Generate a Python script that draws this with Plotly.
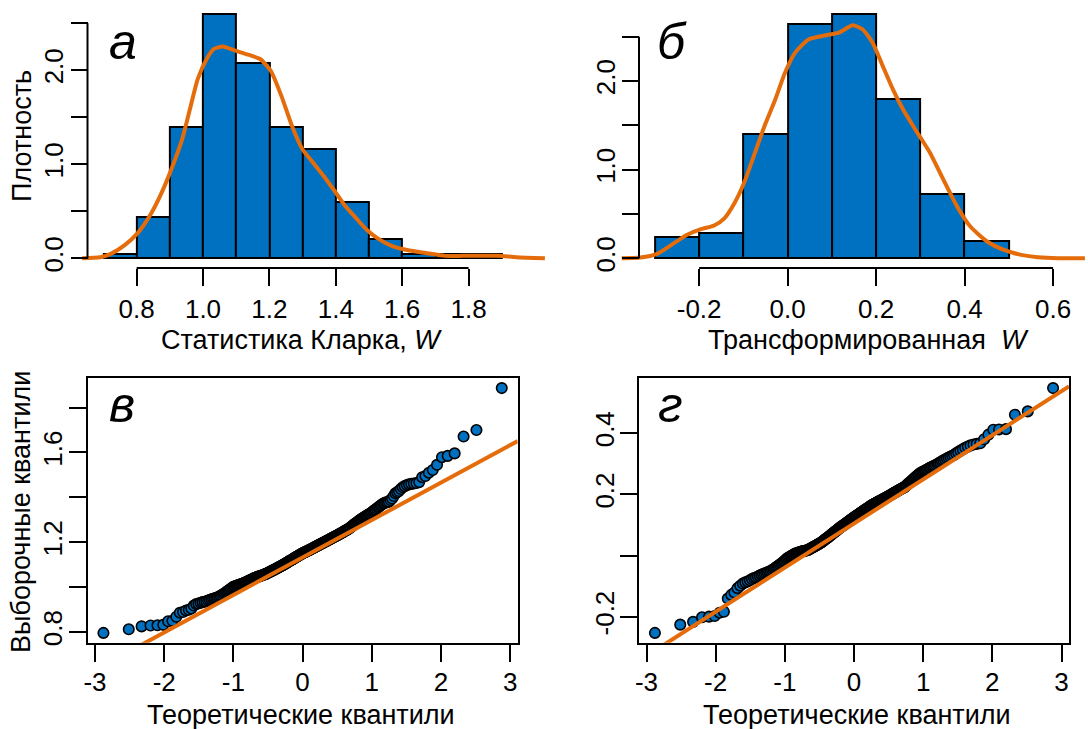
import plotly.graph_objects as go
from statistics import NormalDist

FIG_W, FIG_H = 1088, 729
BLUE = "#0070C0"
ORANGE = "#E46C0A"
FONT = "Liberation Sans, Arial, sans-serif"
TICK_FONT = dict(family=FONT, size=26, color="black")
TITLE_SIZE = 27

# ---------------- panel а: Clark's W, density histogram ----------------
W_BREAKS = [0.7, 0.8, 0.9, 1.0, 1.1, 1.2, 1.3, 1.4, 1.5, 1.6, 1.7, 1.8, 1.9]
W_DENSITY = [0.04, 0.44, 1.40, 2.60, 2.08, 1.40, 1.16, 0.60, 0.20, 0.04, 0.04, 0.04]
W_XLIM = [0.7, 1.9]
W_XTICKS = [0.8, 1.0, 1.2, 1.4, 1.6, 1.8]
W_XTICKTEXT = ["0.8", "1.0", "1.2", "1.4", "1.6", "1.8"]
W_KDE_X = [0.636, 0.690, 0.722, 0.765, 0.803, 0.841, 0.873, 0.905, 0.937, 0.963,
           0.984, 1.011, 1.033, 1.059, 1.097, 1.139, 1.172, 1.204, 1.236, 1.268,
           1.300, 1.332, 1.364, 1.397, 1.429, 1.461, 1.493, 1.525, 1.568, 1.622,
           1.675, 1.729, 1.783, 1.836, 1.890, 1.944, 2.030]
W_KDE_Y = [0.000, 0.010, 0.046, 0.142, 0.267, 0.460, 0.680, 0.950, 1.264, 1.620,
           1.905, 2.119, 2.226, 2.251, 2.208, 2.162, 2.119, 1.994, 1.727, 1.407,
           1.157, 1.015, 0.872, 0.712, 0.552, 0.427, 0.303, 0.214, 0.132, 0.082,
           0.053, 0.025, 0.025, 0.025, 0.025, 0.011, 0.000]

# ---------------- panel б: transformed W, density histogram ----------------
T_BREAKS = [-0.3, -0.2, -0.1, 0.0, 0.1, 0.2, 0.3, 0.4, 0.5]
T_DENSITY = [0.24, 0.28, 1.40, 2.64, 2.76, 1.80, 0.72, 0.20]
T_XLIM = [-0.3, 0.6]
T_XTICKS = [-0.2, 0.0, 0.2, 0.4, 0.6]
T_XTICKTEXT = ["-0.2", "0.0", "0.2", "0.4", "0.6"]
T_KDE_X = [-0.375, -0.333, -0.295, -0.257, -0.227, -0.196, -0.166, -0.143, -0.120, -0.097,
           -0.074, -0.051, -0.028, -0.006, 0.017, 0.048, 0.086, 0.116, 0.147, 0.169,
           0.192, 0.215, 0.238, 0.261, 0.291, 0.322, 0.352, 0.383, 0.413, 0.451,
           0.489, 0.528, 0.566, 0.611, 0.672]
T_KDE_Y = [0.000, 0.008, 0.050, 0.170, 0.264, 0.328, 0.370, 0.450, 0.623, 0.868,
           1.189, 1.509, 1.792, 2.094, 2.321, 2.472, 2.517, 2.547, 2.630, 2.585,
           2.434, 2.170, 1.906, 1.679, 1.434, 1.189, 0.887, 0.585, 0.358, 0.189,
           0.094, 0.038, 0.011, 0.000, 0.000]

HIST_YTICKS = [0.0, 0.5, 1.0, 1.5, 2.0, 2.5]
HIST_YTICKTEXT = ["0.0", "", "1.0", "", "2.0", ""]

# ---------------- panel в: normal Q-Q plot of W ----------------
W_SAMPLE = [
    0.796, 0.812, 0.825, 0.829, 0.830, 0.832, 0.848, 0.850, 0.868, 0.886,
    0.889, 0.896, 0.899, 0.905, 0.918, 0.925, 0.927, 0.930, 0.933, 0.935,
    0.937, 0.940, 0.943, 0.946, 0.948, 0.950, 0.953, 0.955, 0.958, 0.962,
    0.965, 0.969, 0.973, 0.977, 0.981, 0.985, 0.989, 0.993, 0.997, 1.001,
    1.003, 1.005, 1.006, 1.008, 1.010, 1.011, 1.013, 1.015, 1.016, 1.018,
    1.020, 1.022, 1.024, 1.026, 1.028, 1.030, 1.032, 1.034, 1.036, 1.038,
    1.040, 1.041, 1.043, 1.044, 1.046, 1.047, 1.048, 1.050, 1.051, 1.052,
    1.054, 1.055, 1.056, 1.058, 1.059, 1.061, 1.063, 1.064, 1.066, 1.068,
    1.070, 1.071, 1.073, 1.075, 1.077, 1.078, 1.080, 1.082, 1.084, 1.085,
    1.087, 1.089, 1.091, 1.092, 1.094, 1.096, 1.098, 1.099, 1.101, 1.103,
    1.105, 1.107, 1.109, 1.111, 1.113, 1.115, 1.117, 1.119, 1.120, 1.122,
    1.124, 1.126, 1.128, 1.130, 1.132, 1.134, 1.135, 1.137, 1.139, 1.141,
    1.143, 1.145, 1.146, 1.148, 1.150, 1.152, 1.153, 1.155, 1.156, 1.158,
    1.159, 1.161, 1.162, 1.164, 1.165, 1.167, 1.168, 1.170, 1.172, 1.173,
    1.175, 1.177, 1.178, 1.180, 1.182, 1.183, 1.185, 1.187, 1.188, 1.190,
    1.192, 1.193, 1.195, 1.197, 1.198, 1.200, 1.202, 1.203, 1.205, 1.207,
    1.209, 1.210, 1.212, 1.214, 1.216, 1.218, 1.219, 1.221, 1.223, 1.225,
    1.227, 1.228, 1.230, 1.232, 1.234, 1.236, 1.238, 1.240, 1.242, 1.244,
    1.246, 1.249, 1.251, 1.253, 1.255, 1.257, 1.259, 1.262, 1.265, 1.268,
    1.271, 1.275, 1.278, 1.281, 1.284, 1.287, 1.290, 1.294, 1.297, 1.300,
    1.303, 1.306, 1.309, 1.312, 1.315, 1.318, 1.321, 1.324, 1.327, 1.330,
    1.334, 1.338, 1.342, 1.346, 1.350, 1.355, 1.359, 1.364, 1.368, 1.373,
    1.375, 1.378, 1.379, 1.381, 1.388, 1.395, 1.406, 1.418, 1.423, 1.428,
    1.437, 1.445, 1.450, 1.455, 1.458, 1.460, 1.462, 1.464, 1.468, 1.490,
    1.495, 1.510, 1.522, 1.545, 1.579, 1.585, 1.596, 1.671, 1.700, 1.887,
]
W_LINE_INTERCEPT = 1.132
W_LINE_SLOPE = 0.167
W_QQ_YTICKS = [0.8, 1.0, 1.2, 1.4, 1.6, 1.8]
W_QQ_YTICKTEXT = ["0.8", "", "1.2", "", "1.6", ""]

# ---------------- panel г: normal Q-Q plot of transformed W ----------------
T_SAMPLE = [
    -0.252, -0.225, -0.216, -0.201, -0.199, -0.197, -0.186, -0.183, -0.140, -0.128,
    -0.120, -0.106, -0.098, -0.091, -0.087, -0.084, -0.080, -0.076, -0.073, -0.071,
    -0.068, -0.065, -0.062, -0.060, -0.058, -0.056, -0.054, -0.052, -0.050, -0.047,
    -0.044, -0.041, -0.038, -0.035, -0.032, -0.029, -0.026, -0.023, -0.020, -0.017,
    -0.013, -0.009, -0.007, -0.005, -0.003, -0.001, 0.001, 0.003, 0.005, 0.007,
    0.008, 0.009, 0.010, 0.011, 0.012, 0.013, 0.014, 0.015, 0.015, 0.016,
    0.017, 0.017, 0.018, 0.019, 0.021, 0.022, 0.024, 0.025, 0.027, 0.028,
    0.030, 0.031, 0.033, 0.034, 0.036, 0.037, 0.039, 0.040, 0.042, 0.043,
    0.045, 0.047, 0.049, 0.051, 0.053, 0.055, 0.057, 0.058, 0.060, 0.062,
    0.064, 0.066, 0.068, 0.070, 0.072, 0.074, 0.076, 0.078, 0.079, 0.081,
    0.083, 0.085, 0.087, 0.089, 0.091, 0.092, 0.094, 0.096, 0.097, 0.099,
    0.101, 0.102, 0.104, 0.106, 0.107, 0.109, 0.111, 0.112, 0.114, 0.116,
    0.117, 0.119, 0.121, 0.122, 0.124, 0.126, 0.127, 0.129, 0.130, 0.132,
    0.133, 0.135, 0.137, 0.138, 0.140, 0.141, 0.143, 0.144, 0.146, 0.148,
    0.149, 0.151, 0.152, 0.154, 0.155, 0.157, 0.158, 0.160, 0.162, 0.163,
    0.165, 0.166, 0.167, 0.169, 0.170, 0.171, 0.173, 0.174, 0.175, 0.176,
    0.178, 0.179, 0.180, 0.182, 0.183, 0.184, 0.186, 0.187, 0.188, 0.190,
    0.191, 0.192, 0.194, 0.195, 0.197, 0.198, 0.200, 0.201, 0.203, 0.205,
    0.206, 0.208, 0.209, 0.211, 0.212, 0.214, 0.216, 0.217, 0.219, 0.220,
    0.222, 0.223, 0.225, 0.228, 0.231, 0.234, 0.237, 0.239, 0.242, 0.245,
    0.248, 0.251, 0.254, 0.257, 0.260, 0.263, 0.266, 0.269, 0.271, 0.273,
    0.275, 0.277, 0.279, 0.281, 0.283, 0.286, 0.288, 0.290, 0.292, 0.294,
    0.296, 0.299, 0.302, 0.305, 0.308, 0.311, 0.314, 0.317, 0.320, 0.323,
    0.326, 0.329, 0.334, 0.338, 0.343, 0.347, 0.352, 0.356, 0.360, 0.363,
    0.365, 0.367, 0.380, 0.395, 0.411, 0.412, 0.413, 0.460, 0.471, 0.547,
]
T_LINE_INTERCEPT = 0.105
T_LINE_SLOPE = 0.144
T_QQ_YTICKS = [-0.2, 0.0, 0.2, 0.4]
T_QQ_YTICKTEXT = ["-0.2", "", "0.2", "0.4"]

QQ_XTICKS = [-3, -2, -1, 0, 1, 2, 3]
QQ_XTICKTEXT = ["-3", "-2", "-1", "0", "1", "2", "3"]


# ---------------- helpers ----------------
def fx(px):
    return px / FIG_W


def fy(py):
    return 1 - py / FIG_H


def padded(lo, hi, frac=0.04):
    d = (hi - lo) * frac
    return [lo - d, hi + d]


def ppoints(n):
    a = 3 / 8 if n <= 10 else 0.5
    return [(i + 1 - a) / (n + 1 - 2 * a) for i in range(n)]


def widened_domain(usr, px, ext):
    """Pixel span of an extended data range, given that usr maps onto px."""
    scale = (px[1] - px[0]) / (usr[1] - usr[0])
    return [px[0] + (ext[0] - usr[0]) * scale, px[0] + (ext[1] - usr[0]) * scale]


# plot-region pixel boxes (left, right) and (top, bottom)
LEFT_COL = (87.5, 517.7)
RIGHT_COL = (639.0, 1069.0)
TOP_ROW = (4.0, 268.0)
BOT_ROW = (378.3, 642.7)

TICKLEN = 17
axis_common = dict(
    showgrid=False, zeroline=False, ticks="outside", ticklen=TICKLEN, tickwidth=2,
    tickcolor="black", tickfont=TICK_FONT, automargin=False, fixedrange=True,
    tickmode="array",
)

fig = go.Figure()


def add_hist(breaks, dens, kx, ky, xa, ya):
    centers = [(breaks[i] + breaks[i + 1]) / 2 for i in range(len(dens))]
    widths = [breaks[i + 1] - breaks[i] for i in range(len(dens))]
    fig.add_trace(go.Bar(
        x=centers, y=dens, width=widths, xaxis=xa, yaxis=ya,
        marker=dict(color=BLUE, line=dict(color="black", width=2)),
        showlegend=False, hoverinfo="skip",
    ))
    fig.add_trace(go.Scatter(
        x=kx, y=ky, xaxis=xa, yaxis=ya, mode="lines",
        line=dict(color=ORANGE, width=4, shape="spline", smoothing=0.6),
        showlegend=False, hoverinfo="skip",
    ))


add_hist(W_BREAKS, W_DENSITY, W_KDE_X, W_KDE_Y, "x", "y")
add_hist(T_BREAKS, T_DENSITY, T_KDE_X, T_KDE_Y, "x2", "y2")


def add_qq(sample, a, b, xa, ya):
    n = len(sample)
    nd = NormalDist()
    theo = [nd.inv_cdf(p) for p in ppoints(n)]
    xr = padded(min(theo), max(theo))
    fig.add_trace(go.Scatter(
        x=theo, y=sample, xaxis=xa, yaxis=ya, mode="markers",
        marker=dict(size=10.5, color=BLUE, line=dict(color="black", width=1.6)),
        showlegend=False, hoverinfo="skip",
    ))
    fig.add_trace(go.Scatter(
        x=xr, y=[a + b * xr[0], a + b * xr[1]], xaxis=xa, yaxis=ya, mode="lines",
        line=dict(color=ORANGE, width=4), showlegend=False, hoverinfo="skip",
    ))
    return xr, padded(min(sample), max(sample))


qq_w_x, qq_w_y = add_qq(W_SAMPLE, W_LINE_INTERCEPT, W_LINE_SLOPE, "x3", "y3")
qq_t_x, qq_t_y = add_qq(T_SAMPLE, T_LINE_INTERCEPT, T_LINE_SLOPE, "x4", "y4")

# histogram panels: x range is widened so the density curves can run past the axes
w_usr = padded(*W_XLIM)
t_usr = padded(*T_XLIM)
w_ext = [0.62, 2.06]
t_ext = [-0.39, 0.675]
w_dom = widened_domain(w_usr, LEFT_COL, w_ext)
t_dom = widened_domain(t_usr, RIGHT_COL, t_ext)
w_yr = padded(0, max(W_DENSITY))
t_yr = padded(0, max(T_DENSITY))

top_dom = [fy(TOP_ROW[1]), fy(TOP_ROW[0])]
bot_dom = [fy(BOT_ROW[1]), fy(BOT_ROW[0])]

hist_x = dict(axis_common, showline=False, ticklabelstandoff=1)
hist_y = dict(axis_common, showline=False, tickangle=-90, ticklabelstandoff=-3,
              tickvals=HIST_YTICKS, ticktext=HIST_YTICKTEXT, anchor="free")
qq_x = dict(axis_common, showline=True, mirror=True, linecolor="black", linewidth=2,
            tickvals=QQ_XTICKS, ticktext=QQ_XTICKTEXT, ticklabelstandoff=-2)
qq_y = dict(axis_common, showline=True, mirror=True, linecolor="black", linewidth=2,
            tickangle=-90, ticklabelstandoff=-4)

fig.update_layout(
    width=FIG_W, height=FIG_H, autosize=False,
    margin=dict(l=0, r=0, t=0, b=0, pad=0),
    template="none",
    paper_bgcolor="white", plot_bgcolor="rgba(0,0,0,0)",
    font=dict(family=FONT, size=26, color="black"),
    showlegend=False,
    xaxis=dict(hist_x, domain=[fx(w_dom[0]), fx(w_dom[1])], range=w_ext, anchor="y",
               tickvals=W_XTICKS, ticktext=W_XTICKTEXT),
    yaxis=dict(hist_y, domain=top_dom, range=w_yr, position=fx(LEFT_COL[0])),
    xaxis2=dict(hist_x, domain=[fx(t_dom[0]), fx(min(t_dom[1], FIG_W))], range=t_ext,
                anchor="y2", tickvals=T_XTICKS, ticktext=T_XTICKTEXT),
    yaxis2=dict(hist_y, domain=top_dom, range=t_yr, position=fx(RIGHT_COL[0])),
    xaxis3=dict(qq_x, domain=[fx(LEFT_COL[0]), fx(LEFT_COL[1])], range=qq_w_x, anchor="y3"),
    yaxis3=dict(qq_y, domain=bot_dom, range=qq_w_y, anchor="x3",
                tickvals=W_QQ_YTICKS, ticktext=W_QQ_YTICKTEXT),
    xaxis4=dict(qq_x, domain=[fx(RIGHT_COL[0]), fx(RIGHT_COL[1])], range=qq_t_x, anchor="y4"),
    yaxis4=dict(qq_y, domain=bot_dom, range=qq_t_y, anchor="x4",
                tickvals=T_QQ_YTICKS, ticktext=T_QQ_YTICKTEXT),
    bargap=0,
)

# detached axis lines of the histogram panels (first to last tick)
axis_line = dict(color="black", width=2)
fig.add_shape(type="line", xref="x", yref="y domain", x0=W_XTICKS[0], x1=W_XTICKS[-1],
              y0=0, y1=0, line=axis_line)
fig.add_shape(type="line", xref="x2", yref="y2 domain", x0=T_XTICKS[0], x1=T_XTICKS[-1],
              y0=0, y1=0, line=axis_line)
fig.add_shape(type="line", xref="paper", yref="y", x0=fx(LEFT_COL[0]), x1=fx(LEFT_COL[0]),
              y0=HIST_YTICKS[0], y1=HIST_YTICKS[-1], line=axis_line)
fig.add_shape(type="line", xref="paper", yref="y2", x0=fx(RIGHT_COL[0]), x1=fx(RIGHT_COL[0]),
              y0=HIST_YTICKS[0], y1=HIST_YTICKS[-1], line=axis_line)


def label(text, px, py, size=TITLE_SIZE, angle=0):
    fig.add_annotation(
        text=text, xref="paper", yref="paper", x=fx(px), y=fy(py),
        xanchor="center", yanchor="middle", showarrow=False, textangle=angle,
        font=dict(family=FONT, size=size, color="black"),
    )


# axis titles
label("Плотность", 22, 136, angle=-90)
label("Выборочные квантили", 21, 512, angle=-90)
label("Статистика Кларка, <i>W</i>", 301, 340)
label("Трансформированная\u00a0 <i>W</i>", 868, 340)
label("Теоретические квантили", 301, 715)
label("Теоретические квантили", 857, 715)

# panel letters
for txt, px, py in [("а", 122.5, 42), ("б", 672, 42), ("в", 122, 405), ("г", 670, 405)]:
    label(f"<i>{txt}</i>", px, py, size=50)

fig.write_html("out.html")
